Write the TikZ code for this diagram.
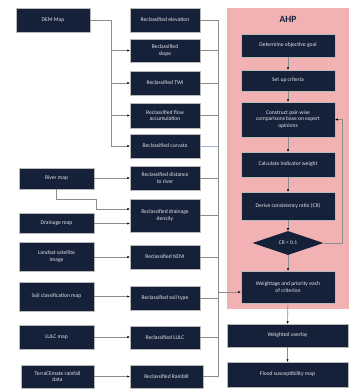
\documentclass[tikz,border=0pt]{standalone}
\usepackage{fontspec}
\setmainfont{Carlito}
\usetikzlibrary{arrows.meta,shapes.geometric}
\definecolor{navy}{RGB}{21,33,56}
\definecolor{pinkbg}{RGB}{242,178,180}
\definecolor{linegray}{RGB}{140,140,140}
\definecolor{txt}{RGB}{225,228,235}
\tikzset{
  box/.style={rectangle, fill=navy, draw=gray!55, line width=0.3pt, text=txt, align=center,
    font=\fontsize{5.6}{6.6}\selectfont, inner sep=1pt},
  conn/.style={draw=linegray, line width=0.6pt},
  arr/.style={conn, -{Latex[length=2.6pt,width=2.4pt,color=black]}},
}
\begin{document}
\begin{tikzpicture}[x=1pt,y=-1pt]
\useasboundingbox (0,0) rectangle (357,389);
% AHP panel
\fill[pinkbg] (227,8) rectangle (349,309);
\node[font=\bfseries\fontsize{9.5}{10}\selectfont, text=navy] (ahp) at (288,19) {AHP};
% left column
\node[box, minimum width=74pt, minimum height=24pt] (dem) at (53,20) {DEM Map};
\node[box, minimum width=75pt, minimum height=21pt] (river) at (56.5,178.5) {River map};
\node[box, minimum width=75pt, minimum height=20pt] (dmap) at (56.5,223.5) {Drainage map};
\node[box, minimum width=75pt, minimum height=29pt] (landsat) at (56.5,256.5) {Landsat satellite\\image};
\node[box, minimum width=75pt, minimum height=29pt] (soil) at (56.5,296.5) {Soil classification map};
\node[box, minimum width=75pt, minimum height=24pt] (lulc) at (56.5,337) {LULC map};
\node[box, minimum width=73pt, minimum height=23pt] (terra) at (57.5,376.5) {TerraClimate rainfall\\data};
% middle column
\node[box, minimum width=70pt, minimum height=24pt] (elev) at (165,20) {Reclassified elevation};
\node[box, minimum width=70pt, minimum height=23pt] (slope) at (165,50.5) {Reclassified\\slope};
\node[box, minimum width=70pt, minimum height=24pt] (twi) at (165,83) {Reclassified TWI};
\node[box, minimum width=70pt, minimum height=25pt] (flow) at (165,115.5) {Reclassified flow\\accumulation};
\node[box, minimum width=70pt, minimum height=24pt] (curv) at (165,146) {Reclassified curvata};
\node[box, minimum width=70pt, minimum height=24pt] (dist) at (165,178) {Reclassified distance\\to river};
\node[box, minimum width=70pt, minimum height=33pt] (dd) at (165,215.5) {Reclassified drainage\\density};
\node[box, minimum width=70pt, minimum height=24pt] (ndvi) at (165,257) {Reclassified NDVI};
\node[box, minimum width=70pt, minimum height=24pt] (st) at (165,298) {Reclassified soil type};
\node[box, minimum width=70pt, minimum height=23pt] (rlulc) at (165,337.5) {Reclassified LULC};
\node[box, minimum width=73pt, minimum height=23pt] (rain) at (166.5,376.5) {Reclassified Rainfall};
% AHP column
\node[box, minimum width=94pt, minimum height=23pt] (goal) at (288,45.5) {Determine objective goal};
\node[box, minimum width=94pt, minimum height=21pt] (crit) at (288,80.5) {Set up criteria};
\node[box, minimum width=94pt, minimum height=35pt] (pair) at (288,119.5) {Construct pair-wise\\comparisons base on expert\\opinions};
\node[box, minimum width=94pt, minimum height=25pt] (calc) at (288,164.5) {Calculate indicator weight};
\node[box, minimum width=94pt, minimum height=28pt] (cr) at (288,206) {Derive consistency ratio (CR)};
\node[diamond, fill=navy, text=txt, font=\fontsize{5.6}{6.6}\selectfont, inner sep=0pt,
  minimum width=71pt, minimum height=24pt] (dia) at (288,243) {CR < 0.1};
\node[box, minimum width=94pt, minimum height=32pt] (wp) at (288,287) {Weightage and priority each\\of criterion};
\node[box, minimum width=121pt, minimum height=23pt] (wo) at (287.5,335.5) {Weighted overlay};
\node[box, minimum width=121pt, minimum height=25pt] (flood) at (287.5,374.5) {Flood susceptibility map};
% DEM branch
\coordinate (demT) at (111,20);
\coordinate (demB) at (111,146);
\draw[conn] (dem.east) -- (demT) -- (demB);
\draw[arr] (slope.west -| demB) -- (slope.west);
\draw[arr] (twi.west -| demB) -- (twi.west);
\draw[arr] (flow.west -| demB) -- (flow.west);
\draw[arr] (demB) -- (curv.west);
% river
\draw[arr] (river.east |- dist.west) -- (dist.west);
\coordinate (rv1) at (96,199);
\coordinate (rv2) at (96,209);
\draw[arr] (river.south) |- (rv1) -- (rv2) -- (rv2 -| dd.west);
\draw[arr] (dmap.east) -- (dmap.east -| dd.west);
\draw[arr] (landsat.east |- ndvi.west) -- (ndvi.west);
\draw[arr] (soil.east) -- (soil.east -| st.west);
\draw[arr] (lulc.east) -- (lulc.east -| rlulc.west);
\draw[arr] (terra.east) -- (terra.east -| rain.west);
% bus
\coordinate (busT) at (218,20);
\coordinate (busB) at (218,376.5);
\coordinate (busA) at (218,292);
\draw[conn] (busT) -- (busB);
\foreach \n in {elev,slope,twi,flow,dist,dd,ndvi,st,rlulc,rain}{
  \draw[conn] (\n.east) -- (\n.east -| busT);
}
\draw[conn, draw={rgb,255:red,160;green,180;blue,225}] (curv.east) -- (curv.east -| busT);
\draw[arr] (busA) -- (busA -| wp.west);
% AHP flow
\draw[arr] (goal) -- (crit);
\draw[arr] (crit) -- (pair);
\draw[arr] (pair) -- (calc);
\draw[arr] (calc) -- (cr);
\draw[arr] (cr) -- (dia);
\draw[arr] (dia) -- (wp);
\coordinate (fb) at (342,243);
\draw[arr] (dia.east) -- (fb) |- (pair.east);
\draw[arr] (wp) -- (wo);
\draw[arr] (wo) -- (flood);
\end{tikzpicture}
\end{document}
